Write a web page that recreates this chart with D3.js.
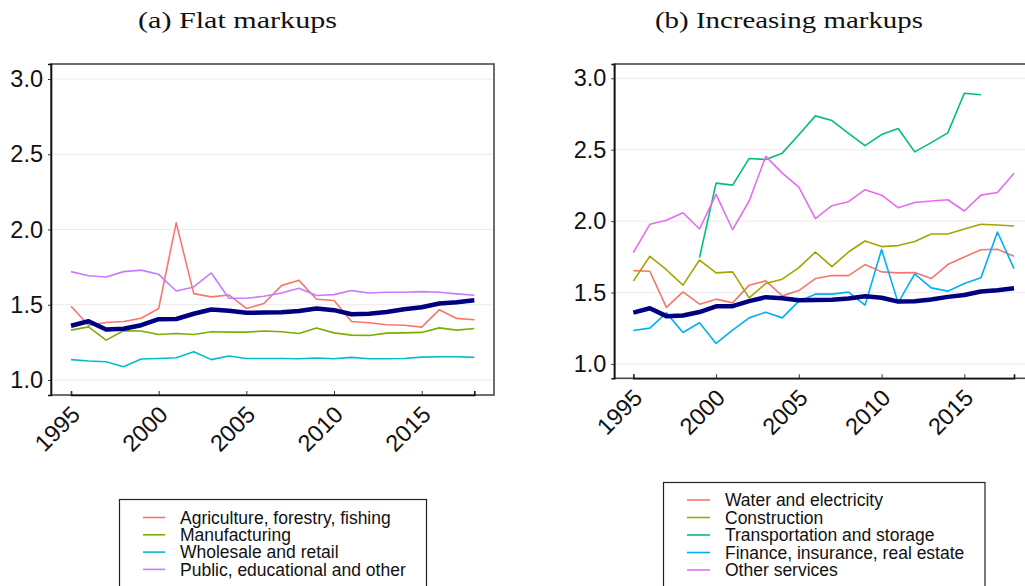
<!DOCTYPE html>
<html>
<head>
<meta charset="utf-8">
<script src="https://cdn.jsdelivr.net/npm/d3@7"></script>
<style>
  body { margin: 0; background: #fff; }
  svg { display: block; }
</style>
</head>
<body>
<div id="container"></div>
<script>
// 枠の大きさ
let width = 1025;
let height = 586;

// データ
var years = d3.range(1995, 2019);
var yTicks = [1.0, 1.5, 2.0, 2.5, 3.0];
var xTicks = [1995, 2000, 2005, 2010, 2015];

// 平均 (両パネル共通、太い紺色の線)
var average = [1.36, 1.39, 1.335, 1.34, 1.364, 1.404, 1.405, 1.44, 1.468, 1.46, 1.446, 1.448,
  1.45, 1.459, 1.475, 1.464, 1.437, 1.44, 1.452, 1.47, 1.483, 1.508, 1.517, 1.53];

// (a) Flat markups
var agriculture = [1.49, 1.364, 1.382, 1.389, 1.41, 1.475, 2.044, 1.574, 1.552, 1.565, 1.475, 1.508,
  1.627, 1.662, 1.536, 1.528, 1.389, 1.38, 1.367, 1.364, 1.351, 1.466, 1.409, 1.40];
var manufacturing = [1.331, 1.353, 1.265, 1.327, 1.325, 1.302, 1.309, 1.302, 1.32, 1.318, 1.318, 1.325,
  1.32, 1.309, 1.346, 1.313, 1.298, 1.296, 1.311, 1.313, 1.316, 1.346, 1.331, 1.342];
var wholesale = [1.135, 1.126, 1.121, 1.088, 1.139, 1.143, 1.148, 1.188, 1.135, 1.159, 1.143, 1.143,
  1.143, 1.141, 1.146, 1.141, 1.15, 1.141, 1.141, 1.143, 1.152, 1.154, 1.154, 1.15];
var publicEdu = [1.72, 1.693, 1.684, 1.72, 1.73, 1.702, 1.591, 1.618, 1.711, 1.543, 1.543, 1.556,
  1.578, 1.609, 1.561, 1.567, 1.594, 1.578, 1.583, 1.583, 1.587, 1.583, 1.572, 1.563];

// (b) Increasing markups
var water = [1.654, 1.649, 1.396, 1.505, 1.419, 1.454, 1.428, 1.552, 1.582, 1.477, 1.514, 1.598,
  1.619, 1.619, 1.696, 1.645, 1.638, 1.64, 1.598, 1.696, 1.749, 1.80, 1.803, 1.754];
var construction = [1.58, 1.754, 1.66, 1.552, 1.728, 1.638, 1.645, 1.463, 1.563, 1.594, 1.675, 1.784,
  1.682, 1.784, 1.861, 1.822, 1.829, 1.857, 1.91, 1.91, 1.945, 1.978, 1.973, 1.966];
var transport = [null, null, null, null, 1.745, 2.266, 2.252, 2.439, 2.432, 2.476, 2.605, 2.737,
  2.704, 2.615, 2.529, 2.606, 2.648, 2.485, 2.55, 2.618, 2.895, 2.885, null, null];
var finance = [1.235, 1.251, 1.358, 1.221, 1.289, 1.144, 1.237, 1.323, 1.363, 1.323, 1.44, 1.489,
  1.489, 1.503, 1.412, 1.801, 1.428, 1.631, 1.533, 1.51, 1.563, 1.603, 1.924, 1.668];
var otherServices = [1.78, 1.978, 2.006, 2.059, 1.945, 2.187, 1.94, 2.141, 2.453, 2.336, 2.238, 2.017,
  2.108, 2.136, 2.22, 2.182, 2.094, 2.131, 2.141, 2.15, 2.071, 2.182, 2.201, 2.336];

var namesA = ["Agriculture, forestry, fishing", "Manufacturing", "Wholesale and retail", "Public, educational and other"];
var namesB = ["Water and electricity", "Construction", "Transportation and storage", "Finance, insurance, real estate", "Other services"];
var colorsA = ["#F8766D", "#7CAE00", "#00BFC4", "#C77CFF"];
var colorsB = ["#F8766D", "#A3A500", "#00BF7D", "#00B0F6", "#E76BF3"];

var svg = d3.select("#container").append("svg")
  .attr("width", width)
  .attr("height", height);

var panels = [
  {
    title: "(a) Flat markups", titleX: 237.5, titleLen: 199,
    left: 51, right: 494, top: 64, bottom: 395,
    x0: 71, x1: 474.3,
    series: [agriculture, manufacturing, wholesale, publicEdu],
    names: namesA, colors: colorsA,
    legend: { x: 119.5, y: 499.5, w: 307, h: 100, rowY: 517.5, step: 17.3, keyX: 143, keyW: 22, textX: 180 }
  },
  {
    title: "(b) Increasing markups", titleX: 789, titleLen: 268,
    left: 614.3, right: 1045, top: 64, bottom: 378.3,
    x0: 633.3, x1: 1014,
    series: [water, construction, transport, finance, otherServices],
    names: namesB, colors: colorsB,
    legend: { x: 663.5, y: 482.5, w: 321.5, h: 120, rowY: 500, step: 17.5, keyX: 687, keyW: 23, textX: 725 }
  }
];

panels.forEach(function(p) {
  var x = d3.scaleLinear().domain([1995, 2018]).range([p.x0, p.x1]);
  var y = d3.scaleLinear().domain([0.9, 3.1]).range([p.bottom, p.top]);
  var g = svg.append("g");

  // タイトル
  svg.append("text")
    .attr("x", p.titleX)
    .attr("y", 28)
    .attr("text-anchor", "middle")
    .attr("font-family", "Liberation Serif, serif")
    .attr("font-size", 23.5)
    .attr("textLength", p.titleLen)
    .attr("lengthAdjust", "spacingAndGlyphs")
    .attr("fill", "#111")
    .text(p.title);

  // グリッド
  g.append("g").selectAll("line")
    .data(yTicks)
    .enter().append("line")
    .attr("x1", p.left).attr("x2", p.right)
    .attr("y1", function(d) { return y(d); })
    .attr("y2", function(d) { return y(d); })
    .attr("stroke", "#ebebeb")
    .attr("stroke-width", 1);

  // 枠
  g.append("rect")
    .attr("x", p.left).attr("y", p.top)
    .attr("width", p.right - p.left).attr("height", p.bottom - p.top)
    .attr("fill", "none")
    .attr("stroke", "#4a4a4a")
    .attr("stroke-width", 1.6);

  // y軸
  var yAxis = g.append("g")
    .attr("transform", "translate(" + p.left + ",0)")
    .call(d3.axisLeft(y).tickValues(yTicks).tickFormat(d3.format(".1f")).tickSize(3).tickPadding(5));
  yAxis.select(".domain").attr("stroke", "#111").attr("stroke-width", 1.6);
  yAxis.selectAll(".tick line").attr("stroke", "#333");
  yAxis.selectAll("text")
    .attr("font-family", "Liberation Sans, Arial, sans-serif")
    .attr("font-size", 23.5)
    .attr("fill", "#111");

  // x軸 (目盛りは内側)
  var xAxis = g.append("g")
    .attr("transform", "translate(0," + p.bottom + ")")
    .call(d3.axisBottom(x).tickValues(xTicks).tickFormat(d3.format("d")).tickSize(-4));
  xAxis.select(".domain").attr("stroke", "#111").attr("stroke-width", 1.6);
  xAxis.selectAll(".tick line").attr("stroke", "#333");
  xAxis.selectAll("text")
    .attr("font-family", "Liberation Sans, Arial, sans-serif")
    .attr("font-size", 23.5)
    .attr("fill", "#111")
    .attr("text-anchor", "end")
    .attr("dy", null)
    .attr("y", 0)
    .attr("transform", "translate(10,21) rotate(-45)");

  // 線
  var line = d3.line()
    .defined(function(d) { return d != null; })
    .x(function(d, i) { return x(years[i]); })
    .y(function(d) { return y(d); });

  var clipId = "clip" + p.left;
  svg.append("clipPath").attr("id", clipId).append("rect")
    .attr("x", p.left).attr("y", p.top)
    .attr("width", p.right - p.left).attr("height", p.bottom - p.top);

  var lines = g.append("g").attr("clip-path", "url(#" + clipId + ")");
  p.series.forEach(function(s, i) {
    lines.append("path")
      .datum(s)
      .attr("d", line)
      .attr("fill", "none")
      .attr("stroke", p.colors[i])
      .attr("stroke-width", 1.6)
      .attr("stroke-linejoin", "round");
  });
  lines.append("path")
    .datum(average)
    .attr("d", line)
    .attr("fill", "none")
    .attr("stroke", "#000080")
    .attr("stroke-width", 4.5)
    .attr("stroke-linejoin", "round");

  // 凡例
  var L = p.legend;
  var lg = svg.append("g");
  lg.append("rect")
    .attr("x", L.x).attr("y", L.y)
    .attr("width", L.w).attr("height", L.h)
    .attr("fill", "#fff")
    .attr("stroke", "#222")
    .attr("stroke-width", 1.2);
  var rows = lg.selectAll(".row")
    .data(p.names)
    .enter().append("g")
    .attr("class", "row")
    .attr("transform", function(d, i) { return "translate(0," + (L.rowY + i * L.step) + ")"; });
  rows.append("line")
    .attr("x1", L.keyX).attr("x2", L.keyX + L.keyW)
    .attr("stroke", function(d, i) { return p.colors[i]; })
    .attr("stroke-width", 1.6);
  rows.append("text")
    .attr("x", L.textX)
    .attr("dy", "0.35em")
    .attr("font-family", "Liberation Sans, Arial, sans-serif")
    .attr("font-size", 17.5)
    .attr("fill", "#111")
    .text(function(d) { return d; });
});
</script>
</body>
</html>
